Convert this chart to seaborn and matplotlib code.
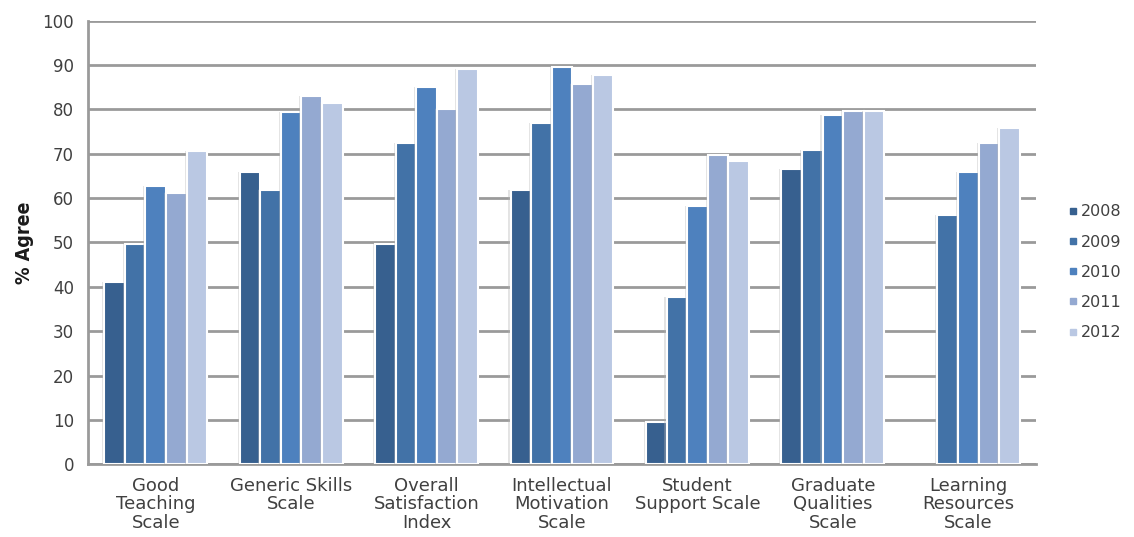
import numpy as np
import pandas as pd
import matplotlib.pyplot as plt
import matplotlib.patheffects as pe
from matplotlib.lines import Line2D
import seaborn as sns

# Data
categories = ['Good\nTeaching\nScale', 'Generic Skills\nScale', 'Overall\nSatisfaction\nIndex',
              'Intellectual\nMotivation\nScale', 'Student\nSupport Scale', 'Graduate\nQualities\nScale',
              'Learning\nResources\nScale']
years = ['2008', '2009', '2010', '2011', '2012']
v2008 = [41.2, 66.0, 49.7, 61.9, 9.5, 66.5, np.nan]
v2009 = [49.7, 61.8, 72.4, 76.9, 37.6, 70.8, 56.1]
v2010 = [62.8, 79.4, 85.0, 89.5, 58.2, 78.8, 65.8]
v2011 = [61.2, 83.1, 80.2, 85.7, 69.7, 79.6, 72.4]
v2012 = [70.6, 81.5, 89.0, 87.8, 68.4, 79.6, 75.9]
colors = ['#37608F', '#4272A7', '#4E81BE', '#94A9D1', '#BAC8E3']

rows = []
for year, vals in zip(years, [v2008, v2009, v2010, v2011, v2012]):
    for cat, v in zip(categories, vals):
        rows.append({'category': cat, 'year': year, 'value': v})
df = pd.DataFrame(rows)

sns.set_style('white')
plt.rcParams['font.family'] = ['DejaVu Sans']
text_col = '#404040'
grid_col = '#9A9A9A'

fig = plt.figure(figsize=(11.34, 5.37), dpi=100)
ax = fig.add_axes([0.0776, 0.1354, 0.836, 0.8261])

sns.barplot(data=df, x='category', y='value', hue='year', order=categories,
            hue_order=years, palette=colors, saturation=1, width=0.76,
            edgecolor='white', linewidth=1.5, ax=ax, legend=False, zorder=3)
for p in ax.patches:
    p.set_path_effects([pe.SimplePatchShadow(offset=(-1.5, 0), shadow_rgbFace='#B0B0B0', alpha=0.35),
                        pe.Normal()])

ax.set_ylim(0, 100)
ax.set_xlim(-0.5, len(categories) - 0.5)
ax.set_yticks(range(0, 101, 10))
ax.yaxis.grid(True, color=grid_col, linewidth=2, zorder=0)
ax.set_axisbelow(True)

for s in ['top', 'right']:
    ax.spines[s].set_visible(False)
for s in ['left', 'bottom']:
    ax.spines[s].set_color(grid_col)
    ax.spines[s].set_linewidth(2)

ax.set_xticks(np.arange(-0.5, len(categories), 1.0), minor=True)
ax.tick_params(axis='x', which='major', length=0, pad=9, labelsize=13, labelcolor=text_col)
ax.tick_params(axis='x', which='minor', length=5, width=2, color=grid_col, direction='out')
ax.tick_params(axis='y', length=6, width=2, color=grid_col, direction='out', pad=4,
               labelsize=12, labelcolor=text_col)
for lbl in ax.get_xticklabels():
    lbl.set_linespacing(1.05)

ax.set_xlabel('')
ax.set_ylabel('% Agree', fontsize=14, fontweight='bold', color='#1a1a1a',
              fontstretch='condensed', labelpad=6)

handles = [Line2D([0], [0], marker='s', linestyle='', markersize=4.5,
                  markerfacecolor=c, markeredgecolor=c) for c in colors]
fig.legend(handles, years, loc='center left', bbox_to_anchor=(0.928, 0.493),
           frameon=False, fontsize=11.5, labelcolor=text_col, handletextpad=0.1,
           handlelength=0.8, labelspacing=0.95)

fig.savefig('out.png', dpi=100)
